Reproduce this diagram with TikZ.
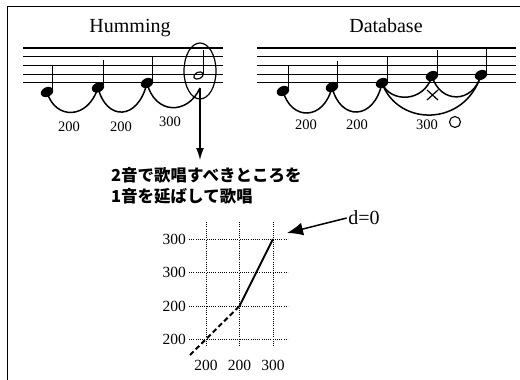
\documentclass[tikz,border=0pt]{standalone}
\usepackage{fontspec}
\setmainfont{Liberation Serif}
\newfontfamily\jpfont{Noto Sans CJK JP}
\usetikzlibrary{arrows.meta,shapes.geometric}

\begin{document}
\begin{tikzpicture}[x=1pt,y=-1pt,
  staffline/.style={line width=1.2pt},
  notehead/.style={ellipse, fill=black, minimum width=13pt, minimum height=9.5pt, inner sep=0pt, rotate=25},
  openhead/.style={ellipse, draw, line width=1.2pt, minimum width=10pt, minimum height=6.5pt, inner sep=0pt, rotate=25},
  stemline/.style={line width=1.1pt},
  tie/.style={line width=1.5pt},
  title/.style={font=\fontsize{20}{22}\selectfont, inner sep=0pt},
  interval/.style={font=\fontsize{14.5}{16}\selectfont, inner sep=0pt},
  axislbl/.style={font=\fontsize{15.5}{17}\selectfont, inner sep=0pt},
  jptext/.style={font=\jpfont\bfseries\fontsize{16.5}{18}\selectfont, inner sep=0pt},
  gridline/.style={line width=0.7pt, dash pattern=on 0.8pt off 1.4pt},
  pointer/.style={line width=1.3pt, -{Latex[length=12pt,width=8pt]}},
]
\useasboundingbox (0,0) rectangle (520,380);

% frame edges
\draw[line width=1pt] (7,380) -- (7,6) -- (520,6);

% titles
\node[title, anchor=base] (thum) at (130,32) {Humming};
\node[title, anchor=base] (tdb) at (386,32) {Database};

% staves
\foreach \y in {48,56.7,65.4,74.1,82.8} {
  \draw[staffline] (23,\y) -- (223,\y);
  \draw[staffline] (257,\y) -- (516,\y);
}

% ---- hummed melody ----
\node[notehead] (h1) at (47,92) {};
\node[notehead] (h2) at (98,87.5) {};
\node[notehead] (h3) at (147,83) {};
\foreach \n in {h1,h2,h3}
  \draw[stemline] ([shift={(5.6,-1.4)}]\n.center) -- ++(0,-26);

% long note in its ellipse
\node[ellipse, draw, line width=1.2pt, minimum width=32pt, minimum height=56pt, inner sep=0pt] (hum) at (200,71) {};
\node[openhead] (h4) at (198.5,75.5) {};
\draw[stemline] ([shift={(4.6,-1)}]h4.center) -- (203.1,50);
\coordinate (hend) at (200,88);

\draw[tie] (h1.center) .. controls (55,120) and (88,120) .. (h2.center);
\draw[tie] (h2.center) .. controls (106,121) and (138,121) .. (h3.center);
\draw[tie] (h3.center) .. controls (155,115) and (188,115) .. (hend);

\node[interval] (hi1) at (69,127) {200};
\node[interval] (hi2) at (121,127) {200};
\node[interval] (hi3) at (170,122) {300};

% ---- database melody ----
\node[notehead] (d1) at (283,91) {};
\node[notehead] (d2) at (332,87) {};
\node[notehead] (d3) at (382,83) {};
\node[notehead] (d4) at (432,76) {};
\node[notehead] (d5) at (481,75) {};
\foreach \n in {d1,d2,d3,d4,d5}
  \draw[stemline] ([shift={(5.6,-1.4)}]\n.center) -- ++(0,-25);

\draw[tie] (d1.center) .. controls (291,121) and (324,121) .. (d2.center);
\draw[tie] (d2.center) .. controls (340,121) and (374,121) .. (d3.center);
\draw[tie] (d3.center) .. controls (390,103) and (424,103) .. (d4.center);
\draw[tie] (d4.center) .. controls (440,104) and (473,104) .. (d5.center);
\draw[tie] (d3.center) .. controls (398,127) and (465,127) .. (d5.center);

% rejected and accepted paths
\coordinate (xm) at (432.5,95);
\draw[line width=1.2pt] ([shift={(-5.5,-5)}]xm) -- ([shift={(5.5,5)}]xm)
                        ([shift={(-5.5,5)}]xm) -- ([shift={(5.5,-5)}]xm);
\node[interval] (di1) at (306,125) {200};
\node[interval] (di2) at (357,125) {200};
\node[interval] (di3) at (427,125) {300};
\node[circle, draw, line width=1.1pt, minimum size=11pt, inner sep=0pt] (ok) at (455,122) {};

% ---- annotation ----
\coordinate (ptr) at (200,160);
\draw[pointer] (hend) -- (ptr);
\node[jptext, anchor=base west] (jp1) at (111,181.5) {2音で歌唱すべきところを};
\node[jptext, anchor=base west] (jp2) at (111,202) {1音を延ばして歌唱};

% ---- DP chart ----
\foreach \x in {206,239.5,273}
  \draw[gridline] (\x,222) -- (\x,346);
\foreach \y in {239,272.5,306,339}
  \draw[gridline] (189,\y) -- (288,\y);

\node[axislbl, anchor=east] (y1) at (186,239) {300};
\node[axislbl, anchor=east] (y2) at (186,272.5) {300};
\node[axislbl, anchor=east] (y3) at (186,306) {200};
\node[axislbl, anchor=east] (y4) at (186,339) {200};
\node[axislbl] (x1) at (206,365) {200};
\node[axislbl] (x2) at (239.5,365) {200};
\node[axislbl] (x3) at (273,365) {300};

\draw[line width=2pt, dash pattern=on 5pt off 3pt] (190,355) -- (239.5,306);
\draw[line width=1.8pt] (239.5,306) -- (273,239);

\node[font=\fontsize{20}{22}\selectfont, inner sep=1.5pt] (d0) at (364,218) {d=0};
\coordinate (end) at (287,233);
\draw[line width=1.5pt, -{Latex[length=16pt,width=13pt]}] (d0.west) -- (end);
\end{tikzpicture}
\end{document}
